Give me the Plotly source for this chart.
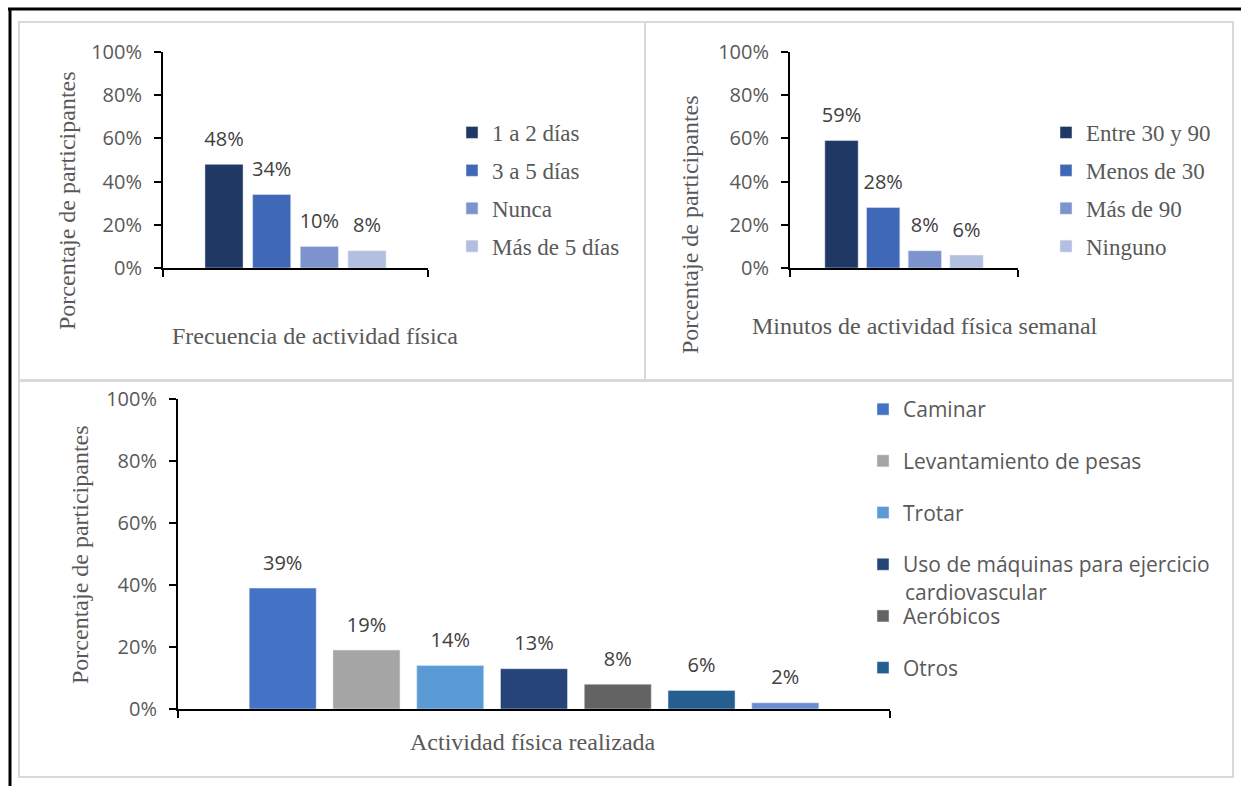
import plotly.graph_objects as go

# ---- data -------------------------------------------------------------
freq_labels = ["1 a 2 días", "3 a 5 días", "Nunca", "Más de 5 días"]
freq_values = [48, 34, 10, 8]

min_labels = ["Entre 30 y 90", "Menos de 30", "Más de 90", "Ninguno"]
min_values = [59, 28, 8, 6]

act_labels = ["Caminar", "Levantamiento de pesas", "Trotar",
              "Uso de máquinas para ejercicio cardiovascular",
              "Aeróbicos", "Otros", "Sin especificar"]
act_values = [39, 19, 14, 13, 8, 6, 2]
act_in_legend = [True, True, True, True, True, True, False]

y_ticks = [0, 20, 40, 60, 80, 100]
y_tick_text = [f"{v}%" for v in y_ticks]

# ---- style ------------------------------------------------------------
blue_shades = ["#203864", "#3F69B7", "#7C93CE", "#B3BFDF"]
act_colors = ["#4472C4", "#A5A5A5", "#5B9BD5", "#264478",
              "#636363", "#255E91", "#698ED0"]

W, H = 1241, 786
SANS = "Open Sans"
SERIF = "Liberation Serif"
TXT = "#595959"


def fx(px):
    return px / W


def fy(py):
    return 1 - py / H


panels = [
    dict(ax="", labels=freq_labels, values=freq_values, colors=blue_shades,
         show=[True] * 4, legend="legend",
         xdom=(163, 428), ydom=(268, 52), pad=1.28),
    dict(ax="2", labels=min_labels, values=min_values, colors=blue_shades,
         show=[True] * 4, legend="legend2",
         xdom=(790, 1018), ydom=(268, 52), pad=1.236),
    dict(ax="3", labels=act_labels, values=act_values, colors=act_colors,
         show=act_in_legend, legend="legend3",
         xdom=(178, 890), ydom=(709, 399), pad=1.25),
]

fig = go.Figure()
annotations = []

for p in panels:
    xa, ya = "x" + p["ax"], "y" + p["ax"]
    for i, (lab, val, col, show) in enumerate(zip(p["labels"], p["values"],
                                                  p["colors"], p["show"])):
        name = lab
        if len(lab) > 30:
            # long legend entries wrap their last word onto a second line
            name, tail = lab.rsplit(" ", 1)
        fig.add_trace(go.Bar(
            x=[lab], y=[val], name=name, marker_color=col,
            xaxis=xa, yaxis=ya, legend=p["legend"],
            legendgroup=p["legend"] + str(i), showlegend=show,
            hovertemplate="%{x}: %{y}%<extra></extra>",
        ))
    # value labels above each bar
    fig.add_trace(go.Scatter(
        x=p["labels"], y=p["values"], xaxis=xa, yaxis=ya,
        mode="markers+text", text=[f"{v}%" for v in p["values"]],
        textposition="top center",
        textfont=dict(family=SANS, size=20, color="#404040"),
        marker=dict(size=20, opacity=0), showlegend=False,
        hoverinfo="skip", cliponaxis=False,
    ))
    n = len(p["labels"])
    rng = [-p["pad"], n - 1 + p["pad"]]
    fig.update_layout({
        "xaxis" + p["ax"]: dict(
            domain=[fx(p["xdom"][0]), fx(p["xdom"][1])], anchor=ya,
            type="category", range=rng, showline=True, linecolor="black",
            linewidth=2, ticks="outside", tickmode="array", tickvals=rng,
            ticklen=7, tickwidth=2, tickcolor="black", automargin=False,
            showticklabels=False, showgrid=False, zeroline=False,
            fixedrange=True),
        "yaxis" + p["ax"]: dict(
            domain=[fy(p["ydom"][0]), fy(p["ydom"][1])], anchor=xa,
            range=[0, 100], tickmode="array", tickvals=y_ticks,
            ticktext=y_tick_text, automargin=False,
            showline=True, linecolor="black", linewidth=2,
            ticks="outside", ticklen=7, tickwidth=2, tickcolor="black",
            ticklabelstandoff=8,
            tickfont=dict(family=SANS, size=20, color=TXT),
            showgrid=False, zeroline=False, fixedrange=True),
    })

# axis titles
titles = [
    ("Frecuencia de actividad física", 315, 336, 0),
    ("Minutos de actividad física semanal", 925, 326, 0),
    ("Actividad física realizada", 533, 742, 0),
    ("Porcentaje de participantes", 67, 201, -90),
    ("Porcentaje de participantes", 690, 225, -90),
    ("Porcentaje de participantes", 80, 554, -90),
]
for text, x, y, ang in titles:
    annotations.append(dict(
        text=text, x=fx(x), y=fy(y), xref="paper", yref="paper",
        xanchor="center", yanchor="middle", textangle=ang, showarrow=False,
        font=dict(family=SERIF, size=24, color=TXT)))

# continuation line of the wrapped legend entry
annotations.append(dict(
    text="cardiovascular", x=fx(903), y=fy(592), xref="paper", yref="paper",
    xanchor="left", yanchor="middle", showarrow=False,
    font=dict(family=SANS, size=21, color=TXT)))

legend_common = dict(xanchor="left", yanchor="top", bgcolor="rgba(0,0,0,0)",
                     borderwidth=0, orientation="v")

# frame: outer black edges and light grey panel borders
shapes = [
    dict(type="line", x0=fx(8), x1=1, y0=fy(9), y1=fy(9), xref="paper",
         yref="paper", line=dict(color="black", width=3)),
    dict(type="line", x0=fx(10), x1=fx(10), y0=fy(8), y1=0, xref="paper",
         yref="paper", line=dict(color="black", width=3)),
]
for x0, y0, x1, y1 in [(19, 22, 645, 380), (645, 22, 1233, 380),
                       (19, 381, 1233, 777)]:
    shapes.append(dict(type="rect", x0=fx(x0), x1=fx(x1), y0=fy(y0),
                       y1=fy(y1), xref="paper", yref="paper",
                       line=dict(color="#D9D9D9", width=2)))

fig.update_layout(
    width=W, height=H, margin=dict(l=0, r=0, t=0, b=0, autoexpand=False),
    paper_bgcolor="white", plot_bgcolor="white",
    barmode="overlay", bargap=0.2,
    font=dict(family=SANS, color=TXT),
    legend=dict(**legend_common, x=fx(492 - 40), y=fy(111),
                tracegroupgap=5,
                font=dict(family=SERIF, size=23, color=TXT)),
    legend2=dict(**legend_common, x=fx(1086 - 40), y=fy(111),
                 tracegroupgap=5,
                 font=dict(family=SERIF, size=23, color=TXT)),
    legend3=dict(**legend_common, x=fx(903 - 40), y=fy(389),
                 tracegroupgap=21.4,
                 font=dict(family=SANS, size=21, color=TXT)),
    annotations=annotations,
    shapes=shapes,
    showlegend=True,
)

fig.write_html("out.html")
